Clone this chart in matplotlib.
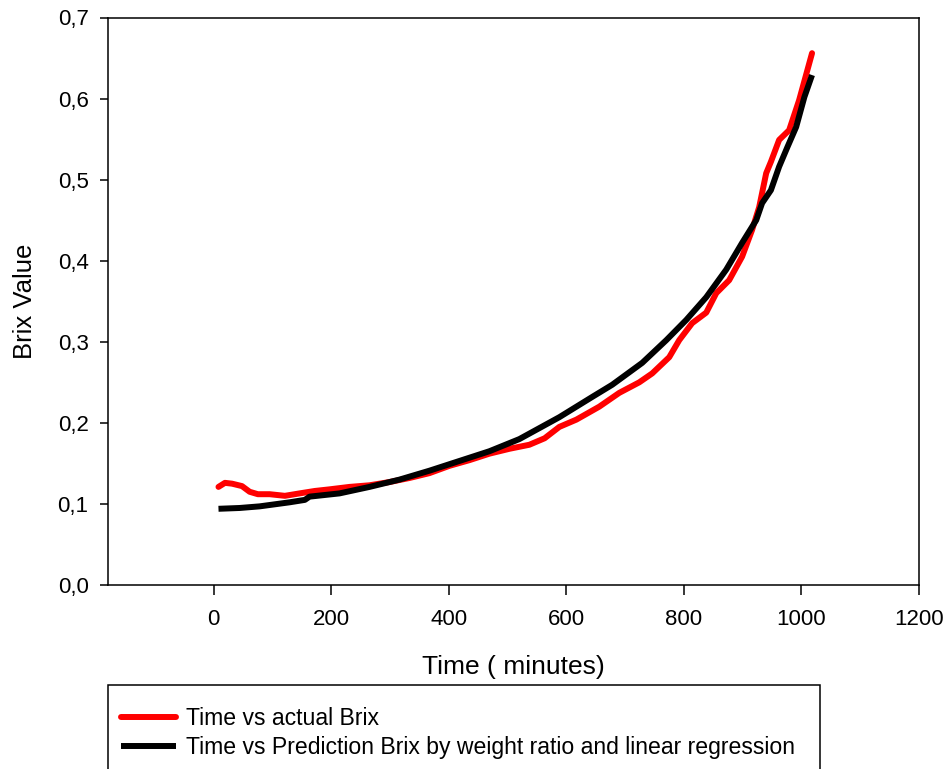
import numpy as np
import matplotlib.pyplot as plt
from matplotlib.patches import Rectangle

plt.rcParams['font.family'] = ['Liberation Sans', 'DejaVu Sans']

# actual Brix readings (time in minutes)
t_actual = [8, 19, 31, 48, 61, 75, 95, 121, 146, 172, 197, 231, 265, 299, 333, 367,
            401, 435, 469, 503, 537, 563, 588, 617, 656, 690, 724, 746, 775, 792,
            814, 838, 855, 877, 899, 916, 928, 940, 948, 962, 979, 996, 1018]
brix_actual = [0.121, 0.126, 0.125, 0.122, 0.115, 0.112, 0.112, 0.110, 0.113, 0.116,
               0.118, 0.121, 0.123, 0.127, 0.132, 0.138, 0.147, 0.154, 0.162, 0.168,
               0.173, 0.181, 0.195, 0.204, 0.220, 0.237, 0.250, 0.261, 0.281, 0.302,
               0.323, 0.336, 0.360, 0.376, 0.405, 0.438, 0.466, 0.508, 0.522, 0.549,
               0.561, 0.598, 0.656]

# predicted Brix (weight ratio + linear regression)
t_pred = [8, 44, 78, 129, 155, 163, 214, 265, 316, 367, 418, 469, 520, 588, 644, 678,
          729, 770, 804, 838, 872, 899, 923, 933, 948, 962, 976, 991, 1005, 1018]
brix_pred = [0.094, 0.095, 0.097, 0.102, 0.105, 0.109, 0.113, 0.121, 0.130, 0.141,
             0.153, 0.165, 0.180, 0.207, 0.232, 0.247, 0.274, 0.302, 0.327, 0.355,
             0.389, 0.422, 0.450, 0.471, 0.487, 0.516, 0.540, 0.565, 0.602, 0.629]

xticks = [0, 200, 400, 600, 800, 1000, 1200]
yticks = [0.0, 0.1, 0.2, 0.3, 0.4, 0.5, 0.6, 0.7]
ylabels = ['0,0', '0,1', '0,2', '0,3', '0,4', '0,5', '0,6', '0,7']

W, H = 944, 769
fig = plt.figure(figsize=(W / 100, H / 100), dpi=100)
ax = fig.add_axes([108 / W, 1 - 585 / H, (919 - 108) / W, (585 - 17.5) / H])

l1, = ax.plot(t_actual, brix_actual, color='#ff0000', lw=4.3, solid_capstyle='round',
              solid_joinstyle='round', label='Time vs actual Brix')
l2, = ax.plot(t_pred, brix_pred, color='black', lw=4.3, solid_capstyle='butt',
              label='Time vs Prediction Brix by weight ratio and linear regression')

ax.set_xlim(-180, 1200)
ax.set_ylim(0, 0.7)
ax.set_xticks(xticks)
ax.set_yticks(yticks)
ax.set_yticklabels(ylabels)
ax.tick_params(axis='x', direction='out', length=7, width=1.1, pad=10, labelsize=16)
ax.tick_params(axis='y', direction='out', length=6, width=1.1, pad=8, labelsize=16)
for s in ax.spines.values():
    s.set_linewidth(1.1)

ax.set_xlabel('Time ( minutes)', fontsize=19, labelpad=18)
ax.set_ylabel('Brix Value', fontsize=18.5, labelpad=15)

# legend box running off the bottom edge
fig.patches.append(Rectangle((108 / W, -0.05), (820 - 108) / W, 0.05 + (769 - 685) / H,
                             transform=fig.transFigure, fill=False, lw=1.1,
                             edgecolor='black'))
fig.legend(handles=[l1, l2], loc='upper left', bbox_to_anchor=(121 / W, 1 - 707 / H),
           frameon=False, fontsize=16.6, handlelength=2.4, handletextpad=0.4,
           labelspacing=0.28, borderpad=0, borderaxespad=0)

fig.savefig('out.png', dpi=100)
